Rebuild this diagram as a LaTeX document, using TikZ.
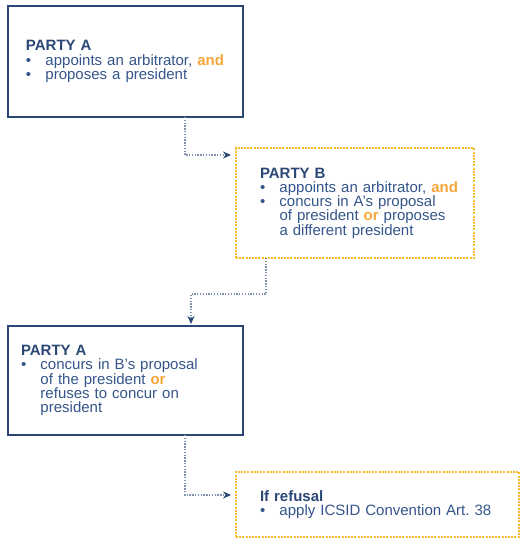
\documentclass[tikz,border=0pt]{standalone}
\usepackage{fontspec}
\setmainfont{Liberation Sans}
\usepackage{xcolor}
\usepackage{tikz}
\usetikzlibrary{arrows.meta,positioning}

\definecolor{navy}{HTML}{2B4775}
\definecolor{bodyblue}{HTML}{34558A}
\definecolor{hiorange}{HTML}{F7A53A}
\definecolor{dotorange}{HTML}{F6BC2A}
\definecolor{linkgray}{HTML}{7F8FAD}

\newcommand{\bul}{\makebox[19.5pt][l]{\textbullet}}
\newcommand{\cont}{\hspace*{19.5pt}}
\newcommand{\hi}[1]{\textcolor{hiorange}{\textbf{#1}}}
\newcommand{\head}[1]{\textcolor{navy}{\textbf{#1}}}

\begin{document}
\begin{tikzpicture}[
    x=1pt, y=1pt,
    box/.style={draw=navy, line width=2pt, anchor=north west, align=left, outer sep=0pt,
      text=bodyblue, font=\fontsize{15}{14.3}\selectfont, inner ysep=0pt},
    partybox/.style={box},
    refbox/.style={box, draw=dotorange, dash pattern=on 2pt off 1.2pt},
    arr/.style={draw=linkgray, line width=1.3pt, dash pattern=on 1.3pt off 1.5pt,
      -{Stealth[length=8pt,width=7pt,color=navy,sep=0pt]}, shorten >=5pt}
  ]
    \useasboundingbox (0,0) rectangle (527,-542);
    \node[partybox, inner xsep=18pt, text width=199pt, minimum height=111pt] (a1) at (8,-6)
      {\head{PARTY A}\\
       \bul appoints an arbitrator, \hi{and}\\
       \bul proposes a president\\[3pt]};
    \node[refbox, below right=31pt and -7pt of a1.south east, anchor=north west,
      inner xsep=14pt, text width=210pt, minimum height=110pt] (b1)
      {\leftskip=10pt
       \head{PARTY B}\\
       \bul appoints an arbitrator, \hi{and}\\
       \bul concurs in A's proposal\\
       \cont of president \hi{or} proposes\\
       \cont a different president\par};
    \node[partybox, below=209pt of a1.south west, anchor=north west,
      inner xsep=13pt, text width=209pt, minimum height=109pt] (a2)
      {\head{PARTY A}\\
       \bul concurs in B's proposal\\
       \cont of the president \hi{or}\\
       \cont refuses to concur on\\
       \cont president};
    \node[refbox, below right=37pt and -7pt of a2.south east, anchor=north west,
      inner xsep=14pt, text width=255pt, minimum height=65pt] (r)
      {\leftskip=10pt
       \head{If refusal}\\
       \bul apply ICSID Convention Art.\ 38\par};
    % dotted links
    \draw[arr] ([xshift=177pt]a1.south west) |- ([yshift=-7pt]b1.north west);
    \draw[arr, shorten >=2pt] ([xshift=30pt]b1.south west) -- ++(0,-36) -| ([xshift=183pt]a2.north west);
    \draw[arr] ([xshift=177pt]a2.south west) |- ([yshift=-23pt]r.north west);
  \end{tikzpicture}
\end{document}
